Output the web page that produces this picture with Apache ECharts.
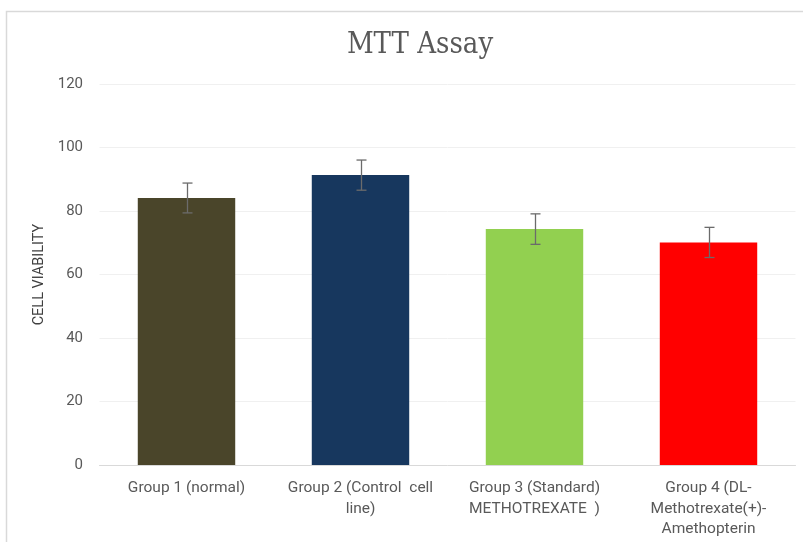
<!DOCTYPE html>
<html><head><meta charset="utf-8">
<script src="https://cdn.jsdelivr.net/npm/echarts@6/dist/echarts.min.js"></script>
<style>html,body{margin:0;padding:0;background:#fff}#c{width:803px;height:542px}</style>
</head><body><div id="c"></div>
<script>
var categories = ["Group 1 (normal)", "Group 2 (Control  cell\nline)", "Group 3 (Standard)\nMETHOTREXATE  )", "Group 4 (DL-\nMethotrexate(+)-\nAmethopterin"];
var values = [84.1, 91.3, 74.3, 70.1];
var errors = [4.7, 4.75, 4.8, 4.75];
var colors = ["#4a452a", "#17375e", "#92d050", "#ff0000"];
var yTicks = [0, 20, 40, 60, 80, 100, 120];

var chart = echarts.init(document.getElementById('c'));
chart.setOption({
  animation: false,
  graphic: [{type: 'rect', shape: {x: 6.5, y: 11.5, width: 820, height: 560}, style: {fill: 'none', stroke: '#d9d9d9', lineWidth: 1.5}, silent: true}],
  title: {text: 'MTT Assay', left: 415, textAlign: 'center', top: 26, textStyle: {fontFamily: 'DejaVu Serif Condensed, Liberation Serif, serif', fontWeight: 'normal', fontSize: 29, color: '#595959'}},
  grid: {left: 99.5, right: 7.5, top: 84, bottom: 77, containLabel: false},
  xAxis: {
    type: 'category', data: categories,
    axisLine: {lineStyle: {color: '#d9d9d9', width: 1}},
    axisTick: {show: false},
    axisLabel: {interval: 0, color: '#595959', fontSize: 15.5, fontFamily: 'Roboto, sans-serif', lineHeight: 20.5, margin: 13}
  },
  yAxis: {
    type: 'value', min: 0, max: 120, interval: 20,
    name: 'CELL VIABILITY', nameLocation: 'middle', nameGap: 53, nameRotate: 90,
    nameTextStyle: {color: '#404040', fontSize: 14.5, fontFamily: 'Roboto, sans-serif'},
    axisLine: {show: false}, axisTick: {show: false},
    axisLabel: {color: '#595959', fontSize: 15, fontFamily: 'Roboto, sans-serif', margin: 16.5,
      formatter: function (v) { return yTicks.indexOf(v) >= 0 ? String(v) : ''; }},
    splitLine: {lineStyle: {color: '#f0f0f0', width: 1}}
  },
  series: [{
    type: 'bar', barWidth: '56%',
    data: values.map(function (v, i) { return {value: v, itemStyle: {color: colors[i]}}; })
  }, {
    type: 'custom',
    data: values.map(function (v, i) { return [i, v - errors[i], v + errors[i]]; }),
    renderItem: function (params, api) {
      var lo = api.coord([api.value(0), api.value(1)]);
      var hi = api.coord([api.value(0), api.value(2)]);
      var x = Math.round(lo[0]) + 0.5, w = 5;
      var st = {stroke: '#6b6b6b', lineWidth: 1.3};
      return {type: 'group', children: [
        {type: 'line', shape: {x1: x, y1: hi[1], x2: x, y2: lo[1]}, style: st},
        {type: 'line', shape: {x1: x - w, y1: hi[1], x2: x + w, y2: hi[1]}, style: st},
        {type: 'line', shape: {x1: x - w, y1: lo[1], x2: x + w, y2: lo[1]}, style: st}
      ]};
    },
    z: 10
  }]
});
</script></body></html>
